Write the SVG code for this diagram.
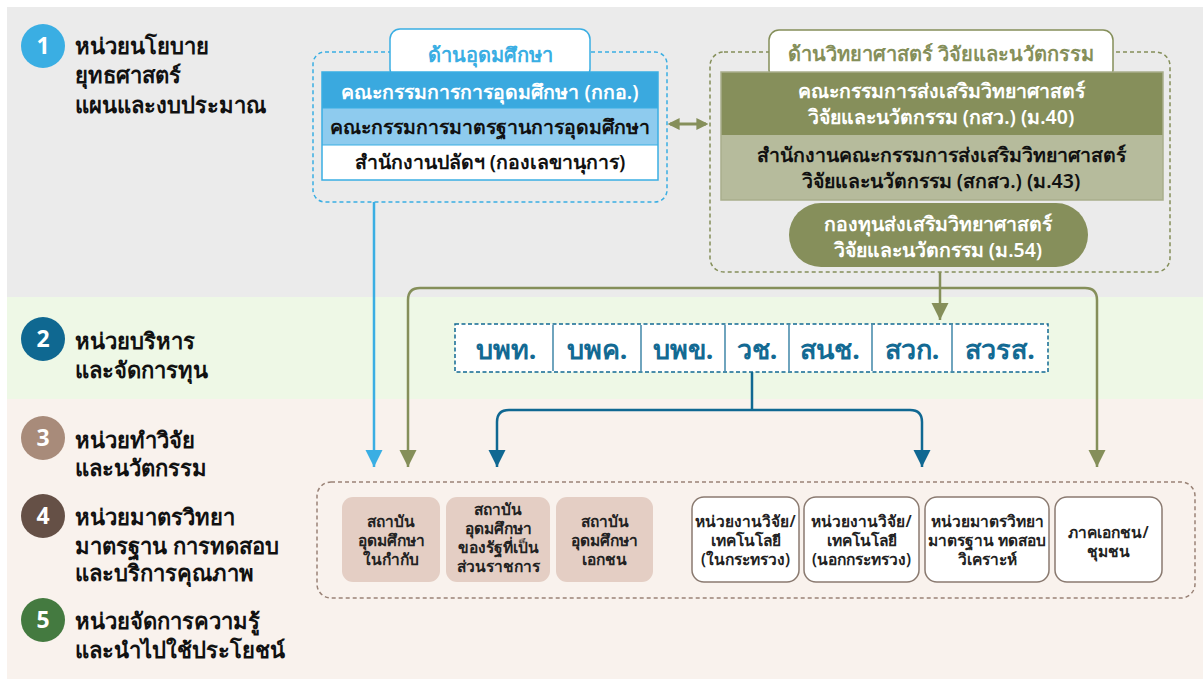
<svg xmlns="http://www.w3.org/2000/svg" width="1203" height="679" viewBox="0 0 1203 679">
<style>
text{font-family:"Noto Sans","DejaVu Sans",sans-serif}
.lbl{font-size:22px;font-weight:700;fill:#111}
.num{font-size:23px;font-weight:700;fill:#fff;text-anchor:middle}
.c{text-anchor:middle}
.t18{font-size:19.5px;font-weight:600}
.w{fill:#fff}
.k{fill:#111}
.mid{font-size:27px;font-weight:700;fill:#136a93;text-anchor:middle}
.sm{font-size:15.5px;font-weight:600;fill:#222;text-anchor:middle}
.box-a{fill:#e4cec4}
.box-b{fill:#fff;stroke:#8a7a70;stroke-width:1.5}
</style>
<defs>
<marker id="ab" viewBox="0 0 10 10" refX="10" refY="5" markerWidth="7" markerHeight="7" orient="auto-start-reverse" markerUnits="strokeWidth"><path d="M0,0L10,5L0,10z" fill="#3aaee3"/></marker>
<marker id="ao" viewBox="0 0 10 10" refX="10" refY="5" markerWidth="7" markerHeight="7" orient="auto-start-reverse" markerUnits="strokeWidth"><path d="M0,0L10,5L0,10z" fill="#858f5a"/></marker>
<marker id="ad" viewBox="0 0 10 10" refX="10" refY="5" markerWidth="7" markerHeight="7" orient="auto-start-reverse" markerUnits="strokeWidth"><path d="M0,0L10,5L0,10z" fill="#106892"/></marker>
<marker id="ao2" viewBox="0 0 10 10" refX="8" refY="5" markerWidth="4" markerHeight="4.5" orient="auto-start-reverse" markerUnits="strokeWidth"><path d="M0,0L10,5L0,10z" fill="#858f5a"/></marker>
</defs>
<rect width="1203" height="679" fill="#fff"/>
<rect x="7" y="7" width="1196" height="290" fill="#ebebeb"/>
<rect x="7" y="297" width="1196" height="102" fill="#eef8e6"/>
<rect x="7" y="399" width="1196" height="280" fill="#f9f2ed"/>

<g id="legend">
<g id="lg1"><circle cx="43" cy="46" r="22" fill="#3aaee3"/><text class="num" x="43" y="54">1</text>
<text class="lbl" x="75" y="54">หน่วยนโยบาย</text><text class="lbl" x="75" y="83">ยุทธศาสตร์</text><text class="lbl" x="75" y="113">แผนและงบประมาณ</text></g>
<g id="lg2"><circle cx="43" cy="339" r="22" fill="#0f6891"/><text class="num" x="43" y="347">2</text>
<text class="lbl" x="75" y="349">หน่วยบริหาร</text><text class="lbl" x="75" y="378">และจัดการทุน</text></g>
<g id="lg3"><circle cx="43" cy="438" r="22" fill="#a88b7a"/><text class="num" x="43" y="446">3</text>
<text class="lbl" x="75" y="448">หน่วยทำวิจัย</text><text class="lbl" x="75" y="476">และนวัตกรรม</text></g>
<g id="lg4"><circle cx="43" cy="516" r="22" fill="#655046"/><text class="num" x="43" y="524">4</text>
<text class="lbl" x="75" y="525">หน่วยมาตรวิทยา</text><text class="lbl" x="75" y="554">มาตรฐาน การทดสอบ</text><text class="lbl" x="75" y="581">และบริการคุณภาพ</text></g>
<g id="lg5"><circle cx="43" cy="620" r="22" fill="#447a40"/><text class="num" x="43" y="628">5</text>
<text class="lbl" x="75" y="629">หน่วยจัดการความรู้</text><text class="lbl" x="75" y="658">และนำไปใช้ประโยชน์</text></g>
</g>

<g id="connectors" fill="none">
<path d="M374,202V467" stroke="#3aaee3" stroke-width="2.5" marker-end="url(#ab)"/>
<path d="M940,272V320" stroke="#858f5a" stroke-width="2.5" marker-end="url(#ao)"/>
<path d="M408,467V300Q408,288 420,288H1085Q1097,288 1097,300V467" stroke="#858f5a" stroke-width="2.5" marker-start="url(#ao)" marker-end="url(#ao)" />
<path d="M752,372V410" stroke="#106892" stroke-width="2.5"/>
<path d="M497,467V422Q497,410 509,410H910Q922,410 922,422V467" stroke="#106892" stroke-width="2.5" marker-start="url(#ad)" marker-end="url(#ad)"/>
<path d="M670,124H706" stroke="#858f5a" stroke-width="3" marker-start="url(#ao2)" marker-end="url(#ao2)"/>
</g>

<g id="higher-ed">
<rect x="313" y="52" width="354" height="150" rx="12" fill="none" stroke="#3aaee3" stroke-width="1.5" stroke-dasharray="4,3"/>
<rect x="390" y="29" width="200" height="50" rx="10" fill="#fff" stroke="#3aaee3" stroke-width="1.5"/>
<text x="490" y="62" class="c" style="font-size:20px;font-weight:700;fill:#3aaee3">ด้านอุดมศึกษา</text>
<rect x="322" y="72" width="336" height="36" fill="#3aa9df"/>
<rect x="322" y="108" width="336" height="37" fill="#8ecbee"/>
<rect x="322" y="145" width="336" height="35" fill="#fff"/>
<rect x="322" y="72" width="336" height="108" fill="none" stroke="#3aaee3" stroke-width="1.5"/>
<line x1="322" y1="108" x2="658" y2="108" stroke="#3aaee3" stroke-width="1"/>
<line x1="322" y1="145" x2="658" y2="145" stroke="#3aaee3" stroke-width="1"/>
<text x="490" y="99" class="c t18 w">คณะกรรมการการอุดมศึกษา (กกอ.)</text>
<text x="490" y="134" class="c t18 k">คณะกรรมการมาตรฐานการอุดมศึกษา</text>
<text x="490" y="169" class="c t18 k">สำนักงานปลัดฯ (กองเลขานุการ)</text>
</g>

<g id="science">
<rect x="710" y="52" width="460" height="220" rx="14" fill="none" stroke="#858f5a" stroke-width="1.5" stroke-dasharray="4,3"/>
<rect x="769" y="30" width="344" height="50" rx="10" fill="#fff" stroke="#858f5a" stroke-width="1.5"/>
<text x="941" y="61" class="c" style="font-size:20px;font-weight:700;fill:#858f5a">ด้านวิทยาศาสตร์ วิจัยและนวัตกรรม</text>
<rect x="721" y="72" width="442" height="63" fill="#868f5b"/>
<rect x="721" y="135" width="442" height="65" fill="#b6bb9c"/>
<rect x="721" y="72" width="442" height="128" fill="none" stroke="#a9ae8c" stroke-width="1.5"/>
<text x="941" y="98" class="c t18 w">คณะกรรมการส่งเสริมวิทยาศาสตร์</text>
<text x="941" y="124" class="c t18 w">วิจัยและนวัตกรรม (กสว.) (ม.40)</text>
<text x="941" y="162" class="c t18 k">สำนักงานคณะกรรมการส่งเสริมวิทยาศาสตร์</text>
<text x="941" y="188" class="c t18 k">วิจัยและนวัตกรรม (สกสว.) (ม.43)</text>
<rect x="789" y="203" width="299" height="64" rx="32" fill="#868f5b"/>
<text x="938" y="231" class="c t18 w">กองทุนส่งเสริมวิทยาศาสตร์</text>
<text x="938" y="257" class="c t18 w">วิจัยและนวัตกรรม (ม.54)</text>
</g>

<g id="funding">
<rect x="455" y="324" width="593" height="48" fill="#fff" stroke="#106892" stroke-width="1.5" stroke-dasharray="4,2.5"/>
<g stroke="#106892" stroke-width="1.2">
<line x1="553" y1="325" x2="553" y2="371"/><line x1="641" y1="325" x2="641" y2="371"/><line x1="725" y1="325" x2="725" y2="371"/><line x1="789" y1="325" x2="789" y2="371"/><line x1="872" y1="325" x2="872" y2="371"/><line x1="952" y1="325" x2="952" y2="371"/>
</g>
<text x="506" y="359" class="mid">บพท.</text>
<text x="597" y="359" class="mid">บพค.</text>
<text x="683" y="359" class="mid">บพข.</text>
<text x="757" y="359" class="mid">วช.</text>
<text x="830" y="359" class="mid">สนช.</text>
<text x="912" y="359" class="mid">สวก.</text>
<text x="1000" y="359" class="mid">สวรส.</text>
</g>

<g id="performers">
<rect x="317" y="482" width="878" height="116" rx="14" fill="none" stroke="#9a8377" stroke-width="1.5" stroke-dasharray="4,3"/>
<g id="n1"><rect class="box-a" x="342" y="497" width="98" height="85" rx="11"/>
<text class="sm" x="391" y="527">สถาบัน</text><text class="sm" x="391" y="546">อุดมศึกษา</text><text class="sm" x="391" y="565">ในกำกับ</text></g>
<g id="n2"><rect class="box-a" x="446" y="497" width="104" height="85" rx="11"/>
<text class="sm" x="498" y="515">สถาบัน</text><text class="sm" x="498" y="534">อุดมศึกษา</text><text class="sm" x="498" y="553">ของรัฐที่เป็น</text><text class="sm" x="498" y="572">ส่วนราชการ</text></g>
<g id="n3"><rect class="box-a" x="556" y="497" width="97" height="85" rx="11"/>
<text class="sm" x="604.5" y="527">สถาบัน</text><text class="sm" x="604.5" y="546">อุดมศึกษา</text><text class="sm" x="604.5" y="565">เอกชน</text></g>
<g id="n4"><rect class="box-b" x="692" y="497" width="107" height="85" rx="12"/>
<text class="sm" x="745.5" y="527">หน่วยงานวิจัย/</text><text class="sm" x="745.5" y="546">เทคโนโลยี</text><text class="sm" x="745.5" y="565">(ในกระทรวง)</text></g>
<g id="n5"><rect class="box-b" x="804" y="497" width="115" height="85" rx="12"/>
<text class="sm" x="861.5" y="527">หน่วยงานวิจัย/</text><text class="sm" x="861.5" y="546">เทคโนโลยี</text><text class="sm" x="861.5" y="565">(นอกกระทรวง)</text></g>
<g id="n6"><rect class="box-b" x="925" y="497" width="124" height="85" rx="12"/>
<text class="sm" x="987" y="527">หน่วยมาตรวิทยา</text><text class="sm" x="987" y="546">มาตรฐาน ทดสอบ</text><text class="sm" x="987" y="565">วิเคราะห์</text></g>
<g id="n7"><rect class="box-b" x="1055" y="497" width="107" height="85" rx="12"/>
<text class="sm" x="1108.5" y="538">ภาคเอกชน/</text><text class="sm" x="1108.5" y="557">ชุมชน</text></g>
</g>
</svg>
